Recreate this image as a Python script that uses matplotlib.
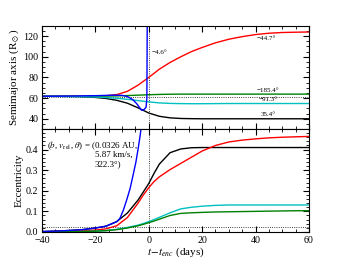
import matplotlib
matplotlib.use("Agg")
import matplotlib.pyplot as plt
from matplotlib.ticker import MultipleLocator

plt.rcParams['font.family'] = ['Liberation Serif', 'DejaVu Serif']
plt.rcParams['mathtext.fontset'] = 'stix'

# time grid (days relative to encounter)
t = [-40, -35, -30, -25, -20, -16, -12, -8, -4, 0, 4, 8, 12, 16, 20, 25, 30, 35, 40, 45, 50, 55, 60]

# semimajor axis (R_sun)
a_black = [61.7, 61.7, 61.6, 61.3, 60.6, 59.6, 57.8, 55.0, 50.5, 45.5, 42.3, 40.8, 40.2, 40.0,
           39.9, 39.9, 39.9, 39.9, 39.9, 39.9, 39.9, 39.9, 39.9]
a_red = [61.7, 61.7, 61.7, 61.7, 61.8, 62.2, 63.3, 66.5, 72.5, 80.0, 88.0, 94.5, 100.0, 105.0,
         109.0, 113.5, 117.0, 119.5, 121.5, 122.8, 123.5, 123.8, 124.0]
a_green = [61.7, 61.7, 61.7, 61.7, 61.8, 61.9, 62.1, 62.4, 62.8, 63.2, 63.5, 63.7, 63.8, 63.8,
           63.8, 63.8, 63.8, 63.8, 63.8, 63.8, 63.8, 63.8, 63.8]
a_cyan = [61.7, 61.6, 61.5, 61.3, 61.0, 60.5, 59.8, 58.8, 57.5, 56.3, 55.3, 54.8, 54.6, 54.5,
          54.5, 54.6, 54.7, 54.7, 54.7, 54.7, 54.7, 54.7, 54.7]
t_blue_a = [-40, -35, -30, -25, -20, -16, -13, -10, -8, -6, -4.5, -3.5, -2.7, -1.8, -1.0, -0.7, -0.55]
a_blue = [61.7, 61.8, 61.9, 62.1, 62.3, 62.6, 62.8, 62.6, 61.5, 58.5, 54.5, 51.0, 48.2, 48.8,
          51.0, 60.0, 140.0]
a_ref = 61.0

# eccentricity
t_e = [-40, -35, -30, -25, -20, -16, -12, -8, -4, -2, 0, 2, 4, 8, 12, 16, 20, 25, 30, 35, 40, 45, 50, 55, 60]
e_black = [0.002, 0.004, 0.007, 0.011, 0.019, 0.028, 0.05, 0.092, 0.155, 0.195, 0.235, 0.285, 0.33,
           0.385, 0.403, 0.409, 0.41, 0.41, 0.41, 0.41, 0.41, 0.41, 0.41, 0.41, 0.41]
e_red = [0.001, 0.002, 0.003, 0.005, 0.009, 0.015, 0.03, 0.07, 0.14, 0.18, 0.215, 0.245, 0.268,
         0.303, 0.333, 0.363, 0.393, 0.42, 0.437, 0.446, 0.452, 0.457, 0.46, 0.462, 0.464]
e_cyan = [0.0, 0.0005, 0.001, 0.002, 0.004, 0.007, 0.013, 0.022, 0.033, 0.041, 0.05, 0.06, 0.071,
          0.093, 0.112, 0.12, 0.125, 0.129, 0.131, 0.131, 0.131, 0.131, 0.131, 0.131, 0.131]
e_green = [0.0, 0.0005, 0.001, 0.002, 0.004, 0.006, 0.011, 0.019, 0.03, 0.037, 0.045, 0.053, 0.062,
           0.08, 0.09, 0.093, 0.095, 0.097, 0.098, 0.099, 0.1, 0.101, 0.102, 0.103, 0.103]
t_blue_e = [-40, -35, -30, -25, -20, -16, -12, -10.8, -9.5, -8.3, -7, -5.8, -4.8, -3.9, -3.2, -2.6]
e_blue = [0.002, 0.004, 0.007, 0.011, 0.019, 0.028, 0.05, 0.066, 0.106, 0.154, 0.21, 0.28, 0.34,
          0.41, 0.47, 0.53]
e_ref = 0.025

angle_labels = ['\u22124.6\u00b0', '\u221244.7\u00b0', '\u2212185.4\u00b0', '\u221291.3\u00b0', '35.4\u00b0']
angle_t = [1.0, 40.5, 40.5, 41.0, 42.0]
angle_a = [104.5, 117.5, 67.3, 58.4, 44.0]

cyan = '#00c0c0'
green = '#008000'

fig = plt.figure(figsize=(3.44, 2.58), dpi=100)
ax1 = fig.add_axes([0.122, 0.5, 0.776, 0.4])
ax2 = fig.add_axes([0.122, 0.101, 0.776, 0.399])

lw = 1.0
ax1.axhline(a_ref, color='k', ls=':', lw=0.6)
ax1.axvline(0, color='k', ls=':', lw=0.6)
ax1.plot(t, a_black, color='k', lw=lw)
ax1.plot(t, a_red, color='red', lw=lw)
ax1.plot(t, a_green, color=green, lw=lw)
ax1.plot(t, a_cyan, color=cyan, lw=lw)
ax1.plot(t_blue_a, a_blue, color='blue', lw=lw)
for s, x, y in zip(angle_labels, angle_t, angle_a):
    ax1.text(x, y, s, fontsize=5, va='center', ha='left')

ax2.axhline(e_ref, color='k', ls=':', lw=0.6)
ax2.axvline(0, color='k', ls=':', lw=0.6)
ax2.plot(t_e, e_black, color='k', lw=lw)
ax2.plot(t_e, e_red, color='red', lw=lw)
ax2.plot(t_e, e_cyan, color=cyan, lw=lw)
ax2.plot(t_e, e_green, color=green, lw=lw)
ax2.plot(t_blue_e, e_blue, color='blue', lw=lw)

ax2.text(-38.3, 0.42, r'($b$, $v_{\rm rel}$, $\theta$) = (0.0326 AU,', fontsize=6.5, va='center')
ax2.text(-20.3, 0.375, '5.87 km/s,', fontsize=6.5, va='center')
ax2.text(-20.3, 0.328, '322.3\u00b0)', fontsize=6.5, va='center')

ax1.set_xlim(-40, 60)
ax1.set_ylim(30, 130)
ax2.set_xlim(-40, 60)
ax2.set_ylim(0, 0.5)

ax1.yaxis.set_major_locator(MultipleLocator(20))
ax1.yaxis.set_minor_locator(MultipleLocator(5))
ax2.yaxis.set_major_locator(MultipleLocator(0.1))
ax2.yaxis.set_minor_locator(MultipleLocator(0.02))
for ax in (ax1, ax2):
    ax.xaxis.set_major_locator(MultipleLocator(20))
    ax.xaxis.set_minor_locator(MultipleLocator(5))
    ax.tick_params(which='both', direction='in', top=True, right=True, labelsize=7.2)
    ax.tick_params(axis='y', which='both', pad=2.5)
    ax.tick_params(axis='x', which='both', pad=3)
    ax.tick_params(which='major', length=4, width=0.8)
    ax.tick_params(which='minor', length=2, width=0.6)
ax1.tick_params(labelbottom=False)
ax2.set_yticks([0.0, 0.1, 0.2, 0.3, 0.4])

ax1.set_ylabel(r'Semimajor axis (R$_\odot$)', fontsize=8, labelpad=1.5)
ax2.set_ylabel('Eccentricity', fontsize=8, labelpad=1.5)
ax2.set_xlabel(r'$t\!-\!t_{enc}$ (days)', fontsize=8, labelpad=0)

fig.savefig('out.png', dpi=100)
